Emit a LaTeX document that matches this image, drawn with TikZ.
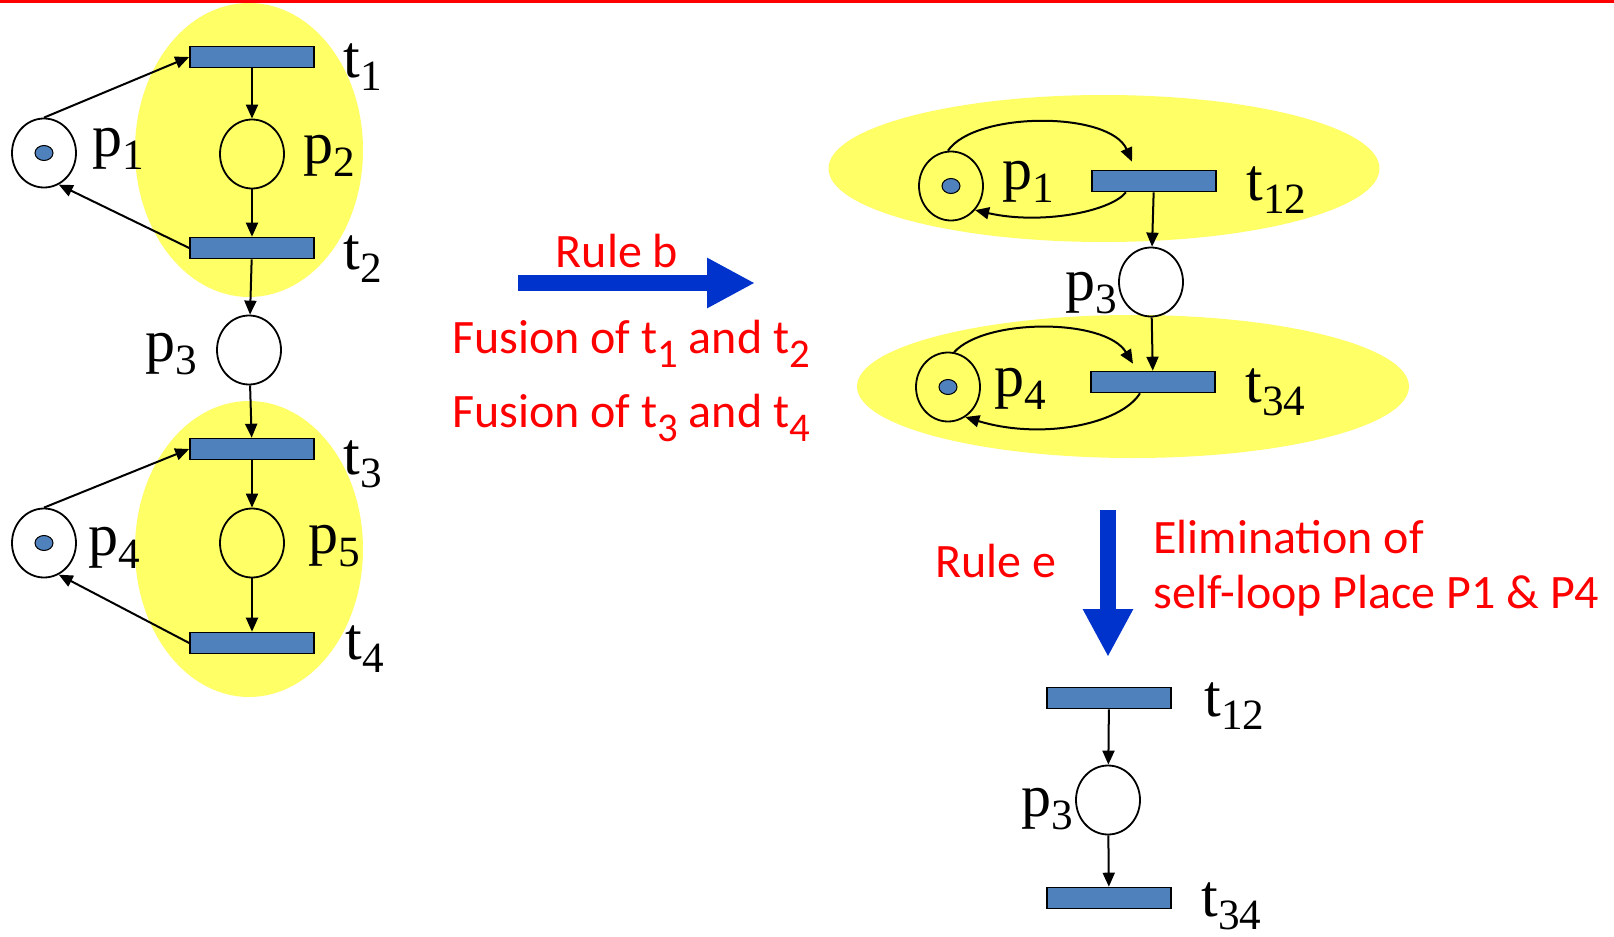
\documentclass[tikz,border=0pt]{standalone}
\usepackage{fontspec}
\setmainfont{Liberation Serif}
\newfontfamily\rulefont{Carlito}
\usetikzlibrary{arrows.meta,shapes.geometric}
\definecolor{hlyellow}{RGB}{255,255,102}
\definecolor{transblue}{RGB}{79,129,189}
\definecolor{rulearrow}{RGB}{0,51,204}
\newcommand{\lsub}[1]{\raisebox{-0.23em}{\scalebox{0.72}{#1}}}
\newcommand{\rsub}[1]{\raisebox{-0.3em}{\scalebox{0.85}{#1}}}

\begin{document}
\begin{tikzpicture}[
    x=0.5pt, y=-0.5pt,
    hl/.style={ellipse, fill=hlyellow, inner sep=0pt},
    place/.style={ellipse, draw=black, line width=0.9pt, minimum width=32pt, minimum height=34.5pt, inner sep=0pt},
    token/.style={ellipse, draw=black, line width=0.5pt, fill=transblue, minimum width=9pt, minimum height=7.5pt, inner sep=0pt},
    trans/.style={rectangle, draw=black, line width=0.8pt, fill=transblue, minimum width=62pt, minimum height=10.5pt, inner sep=0pt},
    lab/.style={anchor=base west, inner sep=0pt, font=\fontsize{30}{30}\selectfont},
    rule/.style={inner sep=0pt, text=red, font=\rulefont\fontsize{24}{28}\selectfont},
    flow/.style={-{Triangle[length=7pt,width=6pt]}, line width=1pt},
    bigarr/.style={-{Triangle[length=24pt,width=23.5pt]}, line width=8pt, draw=rulearrow}
  ]
  \useasboundingbox (0,0) rectangle (1614,937);
  \fill[red] (0,0) rectangle (1614,3);

  % fused groups
  \node[hl, minimum width=114pt, minimum height=147pt] (g12) at (249,150) {};
  \node[hl, minimum width=114pt, minimum height=148pt] (g34) at (249,549) {};
  \node[hl, minimum width=275.5pt, minimum height=73.5pt] (g12b) at (1104,168.5) {};
  \node[hl, minimum width=276pt, minimum height=71.5pt] (g34b) at (1133,386.5) {};

  % original net
  \node[place] (p1) at (44,153) {};
  \node[token] (k1) at (p1) {};
  \node[trans] (t1) at (252,57) {};
  \node[place] (p2) at (252,154) {};
  \node[trans] (t2) at (252,248) {};
  \node[place] (p3) at (249,350) {};
  \node[trans] (t3) at (252,449) {};
  \node[place] (p5) at (252,543) {};
  \node[trans] (t4) at (252,643) {};
  \node[place] (p4) at (44,543) {};
  \node[token] (k4) at (p4) {};

  \node[lab] (p1l) at (92,156) {p\lsub{1}};
  \node[lab] (t1l) at (343,77) {t\lsub{1}};
  \node[lab] (p2l) at (303,163) {p\lsub{2}};
  \node[lab] (t2l) at (343,269) {t\lsub{2}};
  \node[lab] (p3l) at (145,361) {p\lsub{3}};
  \node[lab] (t3l) at (343,474) {t\lsub{3}};
  \node[lab] (p4l) at (88,555) {p\lsub{4}};
  \node[lab] (p5l) at (308,553) {p\lsub{5}};
  \node[lab] (t4l) at (345,659) {t\lsub{4}};

  \draw[flow] (p1.north) -- (t1.west);
  \draw[flow] (t1) -- (p2);
  \draw[flow] (p2) -- (t2);
  \draw[flow] (t2.west) -- (p1.-65);
  \draw[flow] (t2) -- (p3);
  \draw[flow] (p3) -- (t3);
  \draw[flow] (p4.north) -- (t3.west);
  \draw[flow] (t3) -- (p5);
  \draw[flow] (p5) -- (t4);
  \draw[flow] (t4.west) -- (p4.-65);

  % rule b
  \coordinate (rb0) at (518,283);
  \coordinate (rb1) at (755,283);
  \draw[bigarr] (rb0) -- (rb1);
  \node[rule, anchor=base] (ruleb) at (617,267) {Rule b};
  \node[rule, anchor=base] (fus12) at (631,353) {Fusion of t\rsub{1} and t\rsub{2}};
  \node[rule, anchor=base] (fus34) at (631,427) {Fusion of t\rsub{3} and t\rsub{4}};

  % after fusion
  \node[place] (p1b) at (951,186) {};
  \node[token] (k1b) at (p1b) {};
  \node[trans] (t12) at (1154,181) {};
  \node[place] (p3b) at (1151,282) {};
  \node[trans] (t34) at (1153,382) {};
  \node[place] (p4b) at (948,387) {};
  \node[token] (k4b) at (p4b) {};

  \node[lab] (p1bl) at (1002,189) {p\lsub{1}};
  \node[lab] (t12l) at (1246,200) {t\lsub{12}};
  \node[lab] (p3bl) at (1065,300) {p\lsub{3}};
  \node[lab] (p4bl) at (994,396) {p\lsub{4}};
  \node[lab] (t34l) at (1245,402) {t\lsub{34}};

  \draw[flow] (p1b.95) .. controls (975,111) and (1110,111) .. ([xshift=-11pt,yshift=4pt]t12.north);
  \draw[flow] ([xshift=-14pt]t12.south) .. controls (1110,212) and (1040,225) .. (p1b.-45);
  \draw[flow] (t12) -- (p3b);
  \draw[flow] (p3b) -- (t34);
  \draw[flow] (p4b.80) .. controls (985,318) and (1105,318) .. ([xshift=-10pt,yshift=3.5pt]t34.north);
  \draw[flow] ([xshift=-6.5pt]t34.south) .. controls (1120,425) and (1040,440) .. (p4b.-60);

  % rule e
  \coordinate (re0) at (1108,510);
  \coordinate (re1) at (1108,657);
  \draw[bigarr] (re0) -- (re1);
  \node[rule, anchor=base] (rulee) at (996,577) {Rule e};
  \node[rule, anchor=base west] (elim1) at (1153,553) {Elimination of};
  \node[rule, anchor=base west] (elim2) at (1153,608) {self-loop Place P1 \& P4};

  % after elimination
  \node[trans] (t12c) at (1109,698) {};
  \node[place] (p3c) at (1108,800) {};
  \node[trans] (t34c) at (1109,898) {};

  \node[lab] (t12cl) at (1204,716) {t\lsub{12}};
  \node[lab] (p3cl) at (1021,816) {p\lsub{3}};
  \node[lab] (t34cl) at (1201,916) {t\lsub{34}};

  \draw[flow] (t12c) -- (p3c);
  \draw[flow] (p3c) -- (t34c);
\end{tikzpicture}
\end{document}
